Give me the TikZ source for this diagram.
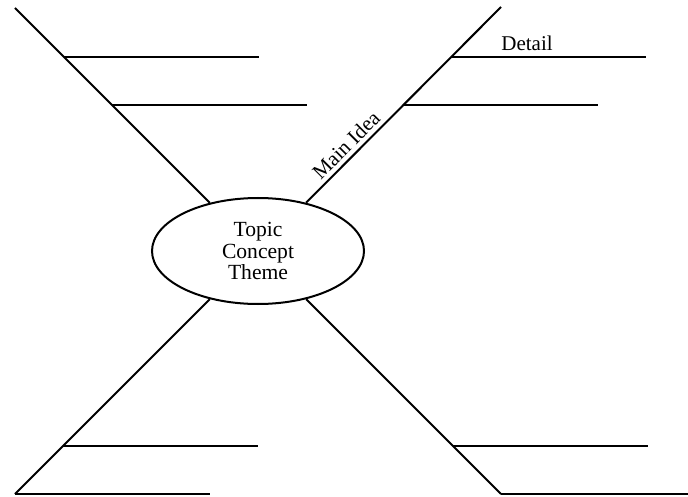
\documentclass[tikz,border=0pt]{standalone}
\usepackage{fontspec}
\setmainfont{Liberation Serif}
\usetikzlibrary{shapes}
\usetikzlibrary{calc}

\begin{document}
\begin{tikzpicture}[x=0.5pt, y=-0.5pt, topic/.style={draw, ellipse, line width=1pt, minimum width=106pt, minimum height=53pt, inner sep=0pt, align=center, font=\fontsize{10.8}{10.6}\selectfont}, branch/.style={line width=1pt}, label/.style={font=\fontsize{10.5}{12}\selectfont}]

\useasboundingbox (0,0) rectangle (688,496);

\node[topic] (t) at (258,251) {Topic\\Concept\\Theme};

\coordinate (ul) at (15,8);
\coordinate (ur) at (501,7);
\coordinate (ll) at (15,494);
\coordinate (lr) at (501,494);

\draw[branch] (t) -- (ul);
\draw[branch] (t) -- (ur) node[label, pos=0.25, sloped, above, inner sep=2pt] (mi) {Main Idea};
\draw[branch] (t) -- (ll);
\draw[branch] (t) -- (lr);

\foreach \n/\x/\y in {a/64/57, b/112/105, c/451/57, d/403/105, e/63/446, f/15/494, g/453/446, h/501/494}
{
\coordinate (d\n) at (\x,\y);
\draw[branch] (d\n) -- ++(195,0) coordinate (e\n);
}

\node[label] (det) at (527,43) {Detail};
\end{tikzpicture}
\end{document}
